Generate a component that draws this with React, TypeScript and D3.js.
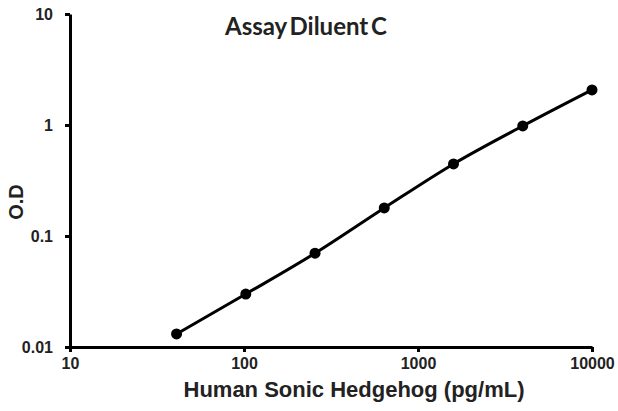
import React, { useEffect, useRef } from 'react';
import * as d3 from 'd3';

const concentrations = [40.96, 102.4, 256, 640, 1600, 4000, 10000];
const odValues = [0.0131, 0.030, 0.070, 0.179, 0.446, 0.98, 2.07];
const xTicks = [10, 100, 1000, 10000];
const yTicks = [0.01, 0.1, 1, 10];
const title = 'Assay Diluent C';
const xLabel = 'Human Sonic Hedgehog (pg/mL)';
const yLabel = 'O.D';

const width = 618;
const height = 411;
const arial = "'Liberation Sans', Arial, sans-serif";

function App() {
    const ref = useRef<SVGSVGElement | null>(null);

    useEffect(() => {
        drawChart();
    }, []);

    function drawChart() {
        const svg = d3.select(ref.current);
        svg.selectAll('*').remove();

        const margin = { top: 14, right: 25, bottom: 64, left: 70 };

        const xScale = d3.scaleLog()
            .domain([10, 10000])
            .range([margin.left, width - margin.right - 1]);

        const yScale = d3.scaleLog()
            .domain([0.01, 10])
            .range([height - margin.bottom, margin.top]);

        const dataset = concentrations.map((x, i) => ({ x: x, y: odValues[i] }));

        const styleTicks = g => g.selectAll('.tick text')
            .attr('font-family', arial)
            .attr('font-weight', 'bold')
            .attr('font-size', 16)
            .attr('fill', '#222');

        // x axis
        svg.append('g')
            .attr('transform', `translate(0,${height - margin.bottom})`)
            .call(d3.axisBottom(xScale).tickValues(xTicks).tickFormat(d => String(d)).tickSize(5).tickSizeOuter(0).tickPadding(6))
            .call(g => g.select('.domain').attr('stroke-width', 3))
            .call(g => g.selectAll('.tick line').attr('stroke-width', 3))
            .call(styleTicks);

        // y axis
        svg.append('g')
            .attr('transform', `translate(${margin.left},0)`)
            .call(d3.axisLeft(yScale).tickValues(yTicks).tickFormat(d => String(d)).tickSize(5).tickSizeOuter(0).tickPadding(12))
            .call(g => g.select('.domain').attr('stroke-width', 3))
            .call(g => g.selectAll('.tick line').attr('stroke-width', 3))
            .call(styleTicks);

        const line = d3.line<{ x: number; y: number }>()
            .x(d => xScale(d.x))
            .y(d => yScale(d.y))
            .curve(d3.curveMonotoneX);

        svg.append('path')
            .datum(dataset)
            .attr('fill', 'none')
            .attr('stroke', '#000')
            .attr('stroke-width', 3)
            .attr('stroke-linejoin', 'round')
            .attr('d', line);

        svg.selectAll('.dot')
            .data(dataset)
            .enter().append('circle')
            .attr('fill', '#000')
            .attr('cx', d => xScale(d.x))
            .attr('cy', d => yScale(d.y))
            .attr('r', 5.5);

        svg.append('text')
            .attr('x', 306)
            .attr('y', 35)
            .attr('text-anchor', 'middle')
            .attr('font-family', "Lato, 'Open Sans', sans-serif")
            .attr('font-weight', 'bold')
            .attr('font-size', 24)
            .attr('word-spacing', -3)
            .attr('fill', '#222')
            .text(title);

        svg.append('text')
            .attr('x', 354)
            .attr('y', 397)
            .attr('text-anchor', 'middle')
            .attr('font-family', arial)
            .attr('font-weight', 'bold')
            .attr('font-size', 22)
            .attr('fill', '#222')
            .text(xLabel);

        svg.append('text')
            .attr('transform', 'translate(23,202) rotate(-90)')
            .attr('text-anchor', 'middle')
            .attr('font-family', arial)
            .attr('font-weight', 'bold')
            .attr('font-size', 20)
            .attr('fill', '#222')
            .text(yLabel);
    }

    return (
        <svg ref={ref} width={width} height={height}
            style={{ position: 'absolute', top: 0, left: 0, background: '#fff' }} />
    );
}

export default App;
